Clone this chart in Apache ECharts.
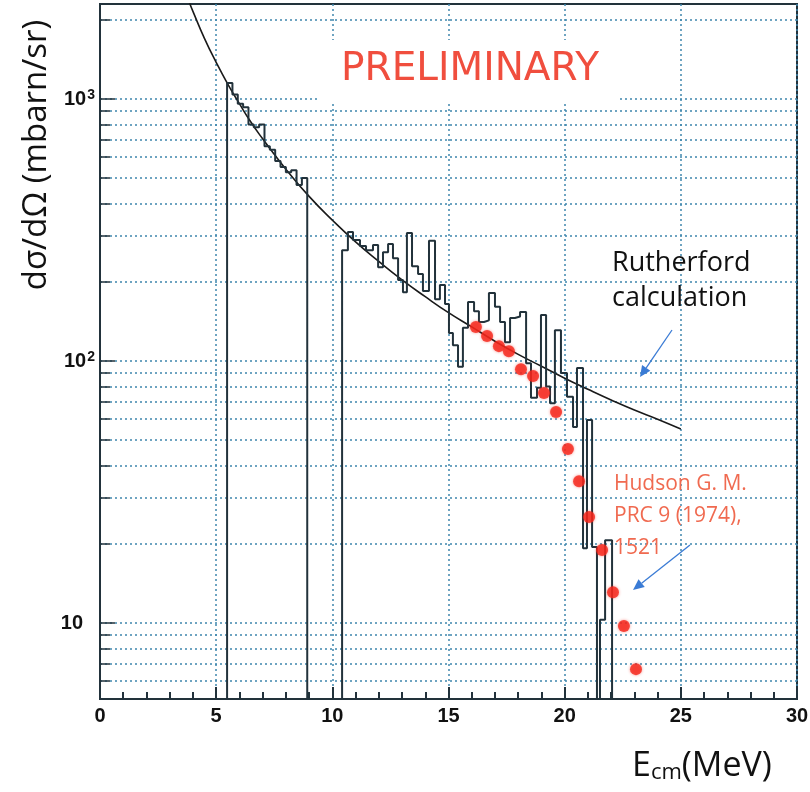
<!DOCTYPE html>
<html><head><meta charset="utf-8">
<script src="https://cdn.jsdelivr.net/npm/echarts@6/dist/echarts.min.js"></script>
<style>html,body{margin:0;padding:0;background:#fff}#c{width:810px;height:792px}</style>
</head><body><div id="c"></div>
<script>
// ---------- data ----------
const xTickValues = [0, 5, 10, 15, 20, 25, 30];
const xMinorTickValues = [1, 2, 3, 4, 6, 7, 8, 9, 11, 12, 13, 14, 16, 17, 18, 19, 21, 22, 23, 24, 26, 27, 28, 29];
const yLabelValues = [10, 100, 1000];
const yTickValues = [6, 7, 8, 9, 10, 20, 30, 40, 50, 60, 70, 80, 90, 100, 200, 300, 400, 500, 600, 700, 800, 900, 1000, 2000];

// Rutherford calculation curve (E_cm MeV, mb/sr)
const rutherfordE = [3.85, 4, 4.5, 5, 5.5, 6, 6.5, 7, 7.5, 8, 9, 10, 11, 12, 13, 14, 15, 16, 17, 18, 19, 20, 21, 22, 23, 24, 25];
const rutherfordSigma = [2330, 2160, 1700, 1380, 1140, 960, 815, 705, 615, 540, 425, 345, 285, 240, 204, 176, 153, 135, 119, 106, 95.5, 86, 78, 71, 65, 60, 55];

// Measured histogram: bin edges (MeV) and contents (mb/sr), 0 = empty bin
const histEdges = [5.47, 5.70, 5.93, 6.16, 6.39, 6.62, 6.85, 7.08, 7.31, 7.54, 7.77, 8.00, 8.23, 8.46, 8.69, 8.92,
  10.42, 10.67, 10.89, 11.19, 11.45, 11.75, 11.97, 12.18, 12.40, 12.61, 12.83, 13.04, 13.21, 13.43, 13.69, 13.90,
  14.16, 14.42, 14.63, 14.85, 15.02, 15.19, 15.41, 15.62, 15.84, 16.10, 16.31, 16.53, 16.74, 17.00, 17.22, 17.43,
  17.65, 17.86, 18.08, 18.34, 18.55, 18.81, 18.98, 19.20, 19.37, 19.58, 19.84, 20.10, 20.36, 20.53, 20.79, 20.96,
  21.18, 21.39, 21.52, 21.74, 22.04];
const histValues = [1150, 1040, 960, 930, 800, 780, 800, 660, 640, 580, 550, 525, 535, 470, 500,
  0,
  265, 311, 290, 275, 265, 277, 228, 260, 280, 247, 204, 183, 308, 230, 215, 185,
  288, 172, 195, 165, 128, 115, 95, 134, 168, 155, 141, 143, 182, 161, 141, 118,
  146, 148, 154, 98, 72.5, 79, 150, 80, 69, 131, 90, 73, 56, 94, 19.3, 59.6,
  19.5, 0, 10.3, 20.7];

// Hudson G. M., PRC 9 (1974) 1521
const hudsonE = [16.18, 16.66, 17.17, 17.60, 18.12, 18.64, 19.11, 19.63, 20.14, 20.62, 21.05, 21.61, 22.08, 22.55, 23.07];
const hudsonSigma = [135, 124.6, 114, 109, 93, 87.7, 75.5, 63.9, 46.2, 34.8, 25.4, 19.0, 13.1, 9.74, 6.67];

// ---------- build ----------
const YMIN = 5.13, YMAX = 2305;
const XMIN = xTickValues[0], XMAX = xTickValues[xTickValues.length - 1];
const FLOOR = 1; // below axis minimum -> clipped (empty bins)
const histPoints = [[histEdges[0], FLOOR]];
for (let i = 0; i < histValues.length; i++) {
  const v = histValues[i] > 0 ? histValues[i] : FLOOR;
  histPoints.push([histEdges[i], v], [histEdges[i + 1], v]);
}
histPoints.push([histEdges[histEdges.length - 1], FLOOR]);

const rutherfordData = rutherfordE.map((e, i) => [e, rutherfordSigma[i]]);
const hudsonData = hudsonE.map((e, i) => [e, hudsonSigma[i]]);

const DARK = '#22323b';
const GRIDC = '#3f86ad';
const BLUE = '#3a7bd5';

function arrow(x1, y1, x2, y2) {
  const a = Math.atan2(y2 - y1, x2 - x1), L = 11, W = 5;
  const bx = x2 - L * Math.cos(a), by = y2 - L * Math.sin(a);
  return [
    { type: 'line', z: 10, shape: { x1, y1, x2: bx, y2: by }, style: { stroke: BLUE, lineWidth: 1.3 } },
    { type: 'polygon', z: 10, shape: { points: [[x2, y2], [bx + W * Math.sin(a), by - W * Math.cos(a)], [bx - W * Math.sin(a), by + W * Math.cos(a)]] }, style: { fill: BLUE } }
  ];
}

const chart = echarts.init(document.getElementById('c'), null, { renderer: 'canvas' });
chart.setOption({
  animation: false,
  backgroundColor: '#fff',
  grid: { left: 100, right: 13, top: 4, bottom: 93, show: true, borderColor: DARK, borderWidth: 2, containLabel: false, outerBoundsMode: 'none' },
  xAxis: [{
    type: 'value', min: XMIN, max: XMAX, interval: 5, position: 'bottom',
    axisLine: { show: true, onZero: false, lineStyle: { color: DARK, width: 2 } },
    axisTick: { show: true, inside: true, length: 12, customValues: xTickValues, lineStyle: { color: DARK, width: 2 } },
    splitLine: { show: true, lineStyle: { color: GRIDC, type: [2, 3], width: 1.5 } },
    axisLabel: { show: true, margin: 7, showMinLabel: true, showMaxLabel: true, color: '#111', fontFamily: 'Liberation Sans', fontWeight: 'bold', fontSize: 20 }
  }, {
    type: 'value', min: XMIN, max: XMAX, position: 'bottom',
    axisLine: { show: false, onZero: false },
    axisTick: { show: true, inside: true, length: 7, customValues: xMinorTickValues, lineStyle: { color: DARK, width: 2 } },
    splitLine: { show: false },
    axisLabel: { show: false }
  }],
  yAxis: [{
    type: 'log', logBase: 10, min: YMIN, max: YMAX,
    axisLine: { show: true, lineStyle: { color: DARK, width: 2 } },
    axisTick: { show: true, inside: true, length: 10, customValues: yTickValues, lineStyle: { color: DARK, width: 1.5 } },
    splitLine: { show: true, lineStyle: { color: GRIDC, type: [2, 3], width: 1.5 } },
    axisLabel: {
      show: true, margin: 5, customValues: yLabelValues,
      formatter: v => { const e = Math.round(Math.log10(v)); return e === 1 ? '{n|10}{sp|}' : '{n|10}{s|' + e + '}'; },
      rich: {
        n: { fontFamily: 'Liberation Sans', fontWeight: 'bold', fontSize: 20, color: '#111', lineHeight: 22 },
        s: { fontFamily: 'Liberation Sans', fontWeight: 'bold', fontSize: 14, color: '#111', verticalAlign: 'top', lineHeight: 12, padding: [0, 0, 0, 1] },
        sp: { width: 12 }
      }
    }
  }, {
    type: 'log', logBase: 10, min: YMIN, max: YMAX, position: 'left',
    axisLine: { show: false },
    axisTick: { show: true, inside: true, length: 15, customValues: yLabelValues, lineStyle: { color: DARK, width: 1.5 } },
    splitLine: { show: false },
    axisLabel: { show: false }
  }],
  series: [{
    name: 'Rutherford', type: 'line', data: rutherfordData, smooth: true, symbol: 'none', showSymbol: false, clip: true, z: 3,
    lineStyle: { color: '#1a1a1a', width: 1.6 }
  }, {
    name: 'data', type: 'line', data: histPoints, symbol: 'none', showSymbol: false, clip: true, z: 4,
    lineStyle: { color: DARK, width: 2 }
  }, {
    name: 'Hudson', type: 'scatter', data: hudsonData, symbol: 'circle', symbolSize: 12, z: 5,
    itemStyle: { color: '#f5261a', shadowBlur: 3, shadowColor: 'rgba(245,38,26,0.6)' }
  }],
  graphic: [
    { type: 'rect', z: 1, shape: { x: 318, y: 40, width: 299, height: 62 }, style: { fill: '#fff' } },
    { type: 'text', z: 10, x: 470, y: 70, style: { text: 'PRELIMINARY', font: '39px "DejaVu Sans"', fill: '#f04e3e', align: 'center', verticalAlign: 'middle' } },
    { type: 'text', z: 10, x: 612, y: 263, style: { text: 'Rutherford', font: '27px "Open Sans"', fill: '#111', align: 'left', verticalAlign: 'middle' } },
    { type: 'text', z: 10, x: 612, y: 298, style: { text: 'calculation', font: '27px "Open Sans"', fill: '#111', align: 'left', verticalAlign: 'middle' } },
    ...arrow(672, 330, 640, 377),
    { type: 'text', z: 10, x: 614, y: 484, style: { text: 'Hudson G. M.', font: '21px "Open Sans"', fill: '#f06a50', align: 'left', verticalAlign: 'middle' } },
    { type: 'text', z: 10, x: 614, y: 516, style: { text: 'PRC 9 (1974),', font: '21px "Open Sans"', fill: '#f06a50', align: 'left', verticalAlign: 'middle' } },
    { type: 'text', z: 10, x: 614, y: 548, style: { text: '1521', font: '21px "Open Sans"', fill: '#f06a50', align: 'left', verticalAlign: 'middle' } },
    ...arrow(690, 545, 633, 590),
    { type: 'text', z: 10, x: 37, y: 155, rotation: Math.PI / 2, style: { text: 'dσ/dΩ (mbarn/sr)', font: '33px "Open Sans"', fill: '#111', align: 'center', verticalAlign: 'middle' } },
    { type: 'text', z: 10, x: 632, y: 766, style: {
        text: '{a|E}{b|cm}{a|(MeV)}', align: 'left', verticalAlign: 'middle',
        rich: { a: { font: '34px "Open Sans"', fill: '#111', color: '#111' }, b: { font: '22px "Open Sans"', fill: '#111', color: '#111', verticalAlign: 'bottom', padding: [14, 0, 0, 0] } }
      } }
  ]
});
</script></body></html>
